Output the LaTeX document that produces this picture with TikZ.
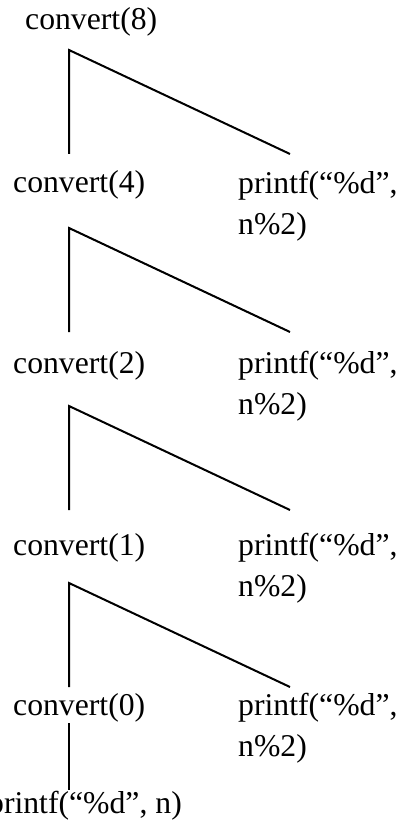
\documentclass[tikz,border=0pt]{standalone}
\usepackage{fontspec}
\setmainfont{Liberation Serif}
\begin{document}
\begin{tikzpicture}[x=1pt,y=-1pt,
  lbl/.style={anchor=base west,inner sep=0pt,font=\fontsize{31.7}{41}\selectfont,align=left},
  edge/.style={line width=2pt,line join=miter}]
\useasboundingbox (0,0) rectangle (406,821);
\clip (0,0) rectangle (406,821);
% labels (multi-line nodes are anchored at the baseline of their last line)
\node[lbl] (c8) at (25,30) {convert(8)};
\node[lbl] (c4) at (13,193) {convert(4)};
\node[lbl] (p4) at (238,234) {printf(“\%d”,\\n\%2)};
\node[lbl] (c2) at (13,373) {convert(2)};
\node[lbl] (p2) at (238,414) {printf(“\%d”,\\n\%2)};
\node[lbl] (c1) at (13,555) {convert(1)};
\node[lbl] (p1) at (238,596) {printf(“\%d”,\\n\%2)};
\node[lbl] (c0) at (13,715) {convert(0)};
\node[lbl] (p0) at (238,756) {printf(“\%d”,\\n\%2)};
\node[lbl,anchor=base east] (pn) at (182,813) {printf(“\%d”, n)};
% connector points
\coordinate (v8) at (69,50);  \coordinate (l8) at (69,154); \coordinate (r8) at (290,154);
\coordinate (v4) at (69,228); \coordinate (l4) at (69,332); \coordinate (r4) at (290,332);
\coordinate (v2) at (69,406); \coordinate (l2) at (69,510); \coordinate (r2) at (290,510);
\coordinate (v1) at (69,583); \coordinate (l1) at (69,687); \coordinate (r1) at (290,687);
\coordinate (t0) at (69,723); \coordinate (b0) at (69,790);
% connectors
\draw[edge] (l8) -- (v8) -- (r8);
\draw[edge] (l4) -- (v4) -- (r4);
\draw[edge] (l2) -- (v2) -- (r2);
\draw[edge] (l1) -- (v1) -- (r1);
\draw[edge] (t0) -- (b0);
\end{tikzpicture}
\end{document}
